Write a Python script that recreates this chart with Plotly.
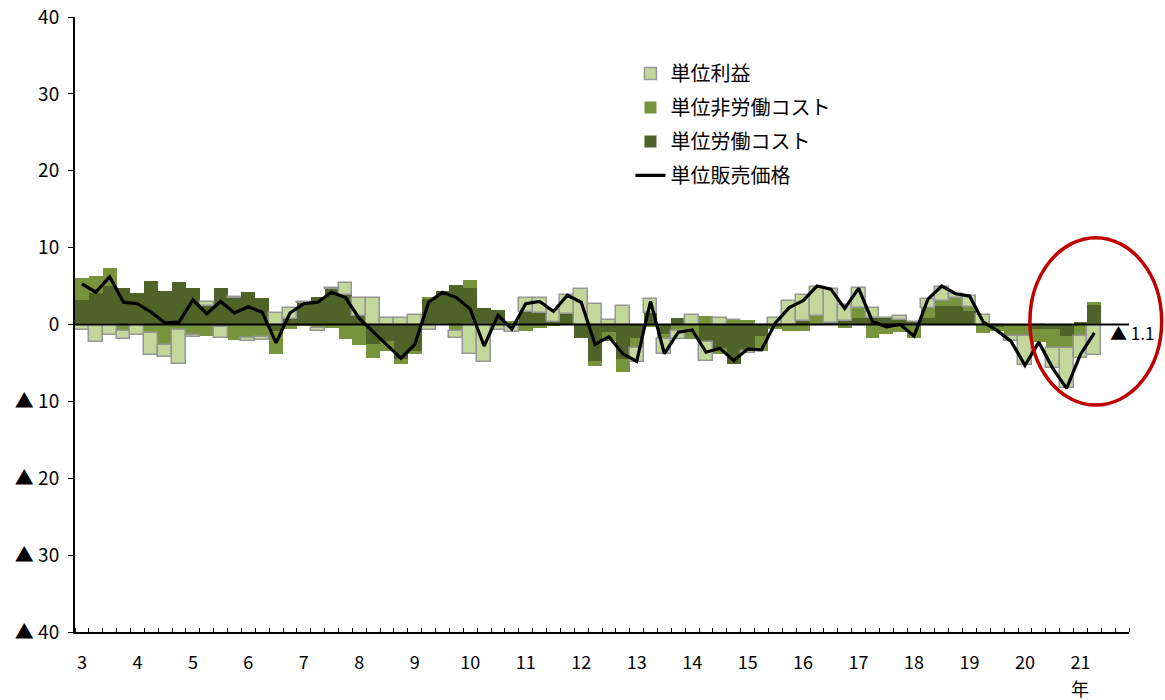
import plotly.graph_objects as go

# Quarterly contributions (%), 2003Q1 .. 2021Q2
labor_cost = [3.2, 4.1, 5.0, 4.8, 4.1, 5.6, 4.4, 5.5, 4.8, 2.4, 4.7, 3.5, 4.2, 3.5, -0.8, 0.7,
              2.8, 3.6, 4.6, 3.8, 1.1, -2.5, -2.1, -4.5, -3.4, 3.4, 4.3, 5.2, 4.8, 2.1, 1.9, 0.2,
              1.6, 1.5, 0.3, 1.4, -1.7, -4.7, -1.0, -4.5, -1.7, 1.5, -1.3, 0.9, 0.0, -2.3, -3.0, -5.2,
              -3.4, -1.5, -0.4, 0.0, 0.5, 0.0, 0.2, 0.5, 0.8, 0.8, 0.9, 0.6, 0.3, 0.9, 2.4, 2.4,
              1.7, 0.0, -0.3, -0.2, -0.2, -0.6, -0.6, -1.5, 0.35, 2.5]
nonlabor_cost = [2.8, 2.2, 2.4, -0.8, 0.0, -1.1, -2.7, -0.7, -1.4, -1.5, -0.3, -2.0, -1.8, -1.6, -3.1, -0.6,
                 -0.2, -0.5, -0.5, -1.9, -2.7, -1.9, -1.3, -0.7, -0.5, 0.2, 0.0, -0.8, 1.0, 0.0, 0.0, 0.2,
                 -0.8, -0.5, -0.2, 0.0, 0.0, -0.7, -1.2, -1.7, -1.3, -0.3, -0.6, -0.8, -1.9, 1.1, -0.9, 0.6,
                 0.6, -1.9, -0.2, -0.9, -0.8, 1.1, 0.0, -0.4, 1.4, -1.8, -1.3, -1.0, -1.8, 1.3, 0.7, 1.0,
                 0.6, -1.1, -0.5, -1.3, -1.3, -1.7, -2.5, -1.6, -1.5, 0.4]
unit_profit = [-0.7, -2.3, -1.4, -1.1, -1.4, -2.9, -1.5, -4.5, -0.2, 0.5, -1.4, 0.1, -0.3, -0.4, 1.5, 1.4,
               0.1, -0.4, 0.2, 1.6, 2.3, 3.5, 0.8, 0.8, 1.3, -0.7, -0.1, -0.9, -3.9, -4.9, -0.7, -1.0,
               1.9, 2.0, 1.6, 2.4, 4.6, 2.7, 0.6, 2.4, -1.9, 1.8, -1.9, -1.1, 1.2, -2.4, 0.8, 0.0,
               -0.3, 0.0, 0.8, 3.1, 3.3, 3.8, 4.4, 2.0, 2.5, 1.4, 0.0, 0.5, 0.0, 1.1, 1.8, 0.6,
               1.4, 1.3, 0.0, -0.7, -3.8, 0.0, -2.6, -5.2, -2.8, -4.0]
sales_price = [5.3, 4.2, 6.2, 2.9, 2.7, 1.6, 0.2, 0.3, 3.2, 1.4, 3.0, 1.5, 2.3, 1.6, -2.4, 1.5,
               2.7, 2.9, 4.2, 3.5, 0.8, -0.9, -2.6, -4.4, -2.6, 2.9, 4.2, 3.5, 2.0, -2.8, 1.2, -0.6,
               2.7, 3.0, 1.7, 3.8, 2.9, -2.6, -1.6, -3.8, -4.8, 3.0, -3.8, -1.0, -0.7, -3.6, -3.1, -4.7,
               -3.2, -3.3, 0.2, 2.2, 3.1, 5.0, 4.6, 2.1, 4.7, 0.4, -0.3, 0.0, -1.5, 3.3, 5.0, 4.0,
               3.7, 0.3, -0.8, -2.2, -5.3, -2.3, -5.7, -8.3, -3.9, -1.1]

years = list(range(3, 22))
year_labels = [str(y) for y in years]
y_ticks = [40, 30, 20, 10, 0, -10, -20, -30, -40]
y_labels = [str(v) if v >= 0 else "▲ " + str(-v) for v in y_ticks]

quarters = list(range(len(sales_price)))
n_axis_quarters = 4 * len(years)

FONT = "Noto Sans CJK JP, Arial, sans-serif"
DARK = "#4f6228"
MID = "#77933c"
LIGHT = "#c4d79b"
EDGE = "#969696"

fig = go.Figure()
fig.add_trace(go.Bar(x=quarters, y=labor_cost, name="単位労働コスト", legendgroup="labor",
                     marker=dict(color=DARK, line=dict(width=0)), legendrank=3))
fig.add_trace(go.Bar(x=quarters, y=nonlabor_cost, name="単位非労働コスト", legendgroup="nonlabor",
                     marker=dict(color=MID, line=dict(width=0)), legendrank=2))
fig.add_trace(go.Bar(x=quarters, y=unit_profit, name="単位利益", legendgroup="profit",
                     marker=dict(color=LIGHT, line=dict(color=EDGE, width=1.5)), legendrank=1))
fig.add_trace(go.Scatter(x=quarters, y=sales_price, name="単位販売価格", mode="lines",
                         legendgroup="price", line=dict(color="black", width=3.2), legendrank=4))

# zero reference line
fig.add_shape(type="line", xref="x", yref="y", x0=-0.5, x1=n_axis_quarters - 0.5, y0=0, y1=0,
              line=dict(color="black", width=2), layer="above")

# highlight of the latest quarters
fig.add_shape(type="circle", xref="paper", yref="paper", x0=0.906, x1=1.031, y0=0.369, y1=0.641,
              line=dict(color="#c00000", width=3.5), layer="above")

last = sales_price[-1]
fig.add_annotation(x=len(sales_price), y=last, xref="x", yref="y", xanchor="left", yanchor="middle",
                   text=("▲ " if last < 0 else "") + f"{abs(last):.1f}", showarrow=False,
                   font=dict(family=FONT, size=17, color="black"))

# unit label under the last year tick
fig.add_annotation(x=4 * (len(years) - 1), y=0, xref="x", yref="paper", yanchor="middle",
                   yshift=-56, text="年", showarrow=False,
                   font=dict(family=FONT, size=18, color="black"))

fig.update_layout(
    template="none",
    width=1165, height=700,
    margin=dict(l=75, r=36, t=17, b=68),
    paper_bgcolor="white", plot_bgcolor="white",
    barmode="relative", bargap=0,
    font=dict(family=FONT, size=18, color="black"),
    showlegend=True,
    legend=dict(x=0.527, y=0.94, xanchor="left", yanchor="top", bgcolor="rgba(0,0,0,0)",
                font=dict(family=FONT, size=20), itemwidth=30, tracegroupgap=5,
                traceorder="grouped"),
    xaxis=dict(range=[-0.5, n_axis_quarters - 0.5], tickmode="array",
               tickvals=[4 * i for i in range(len(years))], ticktext=year_labels,
               ticks="", ticklabelstandoff=13, showgrid=False, zeroline=False,
               showline=True, linecolor="black", linewidth=2, automargin=False,
               tickfont=dict(size=18),
               minor=dict(tick0=-0.5, dtick=1, ticks="inside", ticklen=4, tickcolor="black",
                          tickwidth=1, showgrid=False)),
    yaxis=dict(range=[-40, 40], tickmode="array", tickvals=y_ticks, ticktext=y_labels,
               ticks="outside", ticklen=5, tickcolor="black", showgrid=False, zeroline=False,
               showline=True, linecolor="black", linewidth=2, automargin=False,
               ticklabelstandoff=5, tickfont=dict(size=19)),
)

fig.write_html("out.html")
